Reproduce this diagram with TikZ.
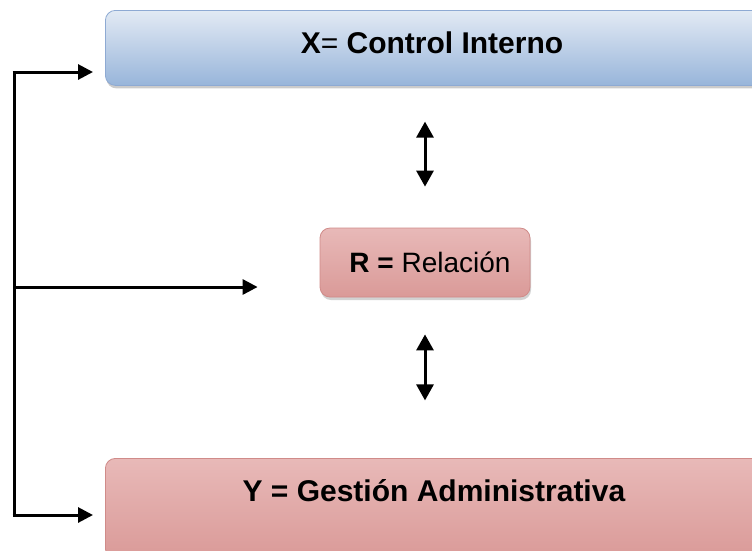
\documentclass[tikz,border=0pt]{standalone}
\usepackage{fontspec}
\setmainfont{Liberation Sans}
\usetikzlibrary{arrows.meta,shadows,calc}
\definecolor{ctrllight}{HTML}{E2EAF4}
\definecolor{ctrlmid}{HTML}{D3DFEE}
\definecolor{ctrldark}{HTML}{98B5DA}
\definecolor{ctrledge}{HTML}{8EAAD3}
\definecolor{gestlight}{HTML}{F5E4E3}
\definecolor{gesttop}{HTML}{E8B9B8}
\definecolor{gestdark}{HTML}{DA9A98}
\definecolor{gestedge}{HTML}{D08B89}

\begin{document}
\begin{tikzpicture}[x=1pt,y=-1pt]
\tikzstyle{bluebox}=[rectangle,rounded corners=10pt,draw=ctrledge,line width=0.8pt,top color=ctrllight,middle color=ctrlmid,bottom color=ctrldark,drop shadow={shadow xshift=1pt,shadow yshift=-3pt,fill=gray!80}]
\tikzstyle{redbox}=[rectangle,rounded corners=10pt,draw=gestedge,line width=0.8pt,top color=gesttop,middle color=gestlight,bottom color=gestdark,drop shadow={shadow xshift=1pt,shadow yshift=-3pt,fill=gray!70}]
\tikzstyle{big}=[font=\fontsize{30}{36}\selectfont]
\tikzstyle{link}=[line width=3pt,-{Triangle[length=15pt,width=15pt]}]
\tikzstyle{dbl}=[line width=3pt,{Triangle[length=16pt,width=17pt]}-{Triangle[length=16pt,width=17pt]}]
\clip (0,0) rectangle (752,550);
\fill[white] (0,0) rectangle (752,550);
% boxes
\node [bluebox,anchor=north west,minimum width=680pt,minimum height=75pt] (ctrl) at (105,10) {};
\node [big] (ctrltxt) at (432,43) {\textbf{X}= \textbf{Control Interno}};
\node [redbox,minimum width=210pt,minimum height=69pt] (rel) at (425,262.5) {};
\node [big,font=\fontsize{28}{34}\selectfont] (reltxt) at (430,262) {\textbf{R =} Relación};
\node [redbox,anchor=north west,minimum width=680pt,minimum height=100pt] (gest) at (105,458) {};
\node [big] (gesttxt) at (434,491) {\textbf{Y = Gestión Administrativa}};
% left bracket
\coordinate (top) at (14,72);
\coordinate (mid) at (14,287);
\coordinate (bot) at (14,515);
\draw [line width=3pt] (top) -- (bot);
\draw [link] ($(top)+(-1.5,0)$) -- ($(ctrl.west|-top)+(-12,0)$);
\draw [link] (mid) -- ($(rel.west|-mid)+(-62,0)$);
\draw [link] ($(bot)+(-1.5,0)$) -- ($(gest.west|-bot)+(-12,0)$);
% double arrows
\draw [dbl] ($(rel.north)+(0,-106)$) -- ($(rel.north)+(0,-41)$);
\draw [dbl] ($(rel.south)+(0,37)$) -- ($(rel.south)+(0,103)$);
\end{tikzpicture}
\end{document}
